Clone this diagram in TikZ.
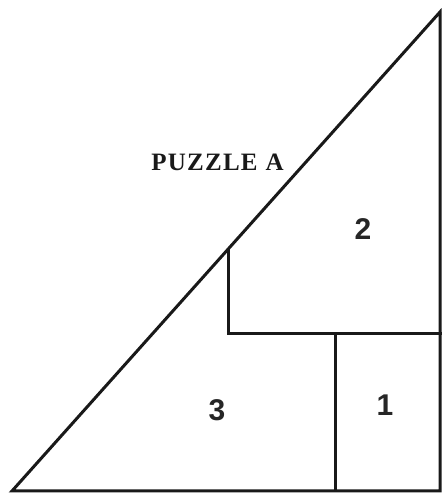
\documentclass[tikz,border=0pt]{standalone}
\usepackage{fontspec}
\setmainfont{Liberation Serif}
\newfontfamily\digitfont{Liberation Sans}
\newfontfamily\titlefont[LetterSpace=5]{Liberation Serif}
\begin{document}
\begin{tikzpicture}[x=1pt,y=1pt,
  edge/.style={line width=3pt, line join=miter, line cap=rect, black!90},
  piece/.style={font=\digitfont\bfseries\fontsize{30}{30}\selectfont, text=black!85, inner sep=0pt},
  title/.style={font=\titlefont\bfseries\fontsize{25}{25}\selectfont, text=black!90, inner sep=0pt}]
\useasboundingbox (0,0) rectangle (444,494);
\coordinate (A) at (12,3);
\coordinate (B) at (440,3);
\coordinate (C) at (440,482);
\coordinate (P) at (228,244.7);
\coordinate (Q) at (228,160);
\coordinate (R) at (440,160);
\coordinate (S) at (335,160);
\coordinate (T) at (335,3);
\draw[edge] (A) -- (B) -- (C) -- cycle;
\draw[edge] (P) -- (Q) -- (R);
\draw[edge] (S) -- (T);
\node[title] (ttl) at (217.5,332) {PUZZLE\hspace{8pt}A};
\node[piece] (n2) at (363,265) {2};
\node[piece] (n3) at (217,84) {3};
\node[piece] (n1) at (385,89) {1};
\end{tikzpicture}
\end{document}
